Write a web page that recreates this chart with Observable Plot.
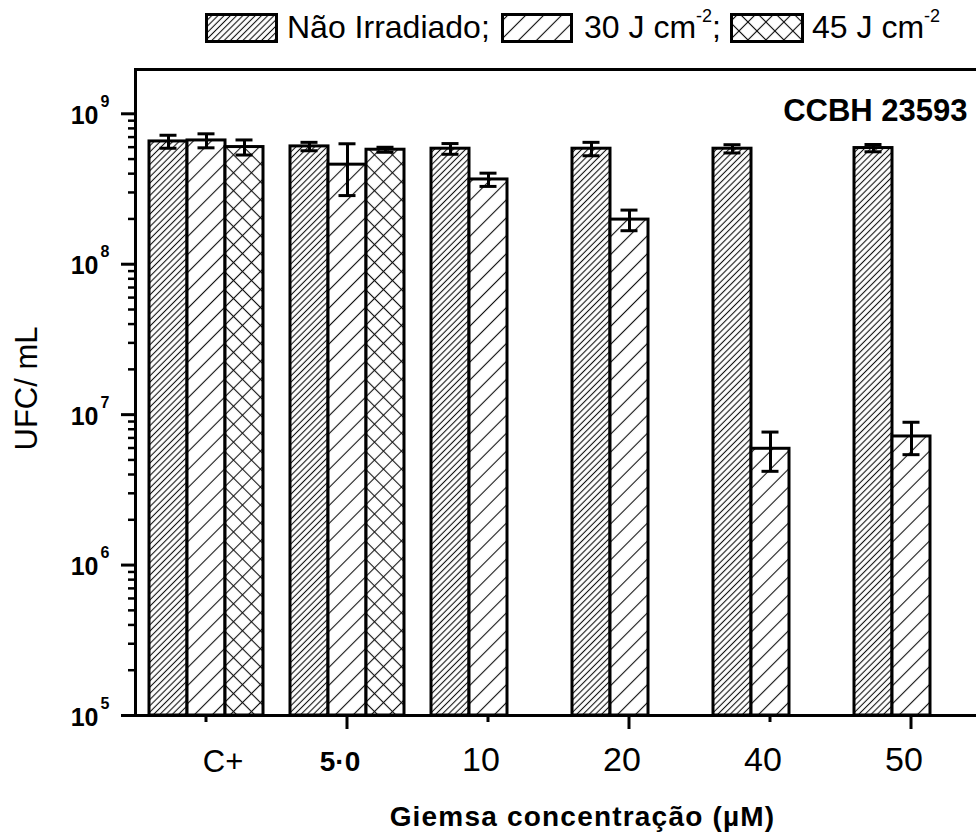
<!DOCTYPE html>
<html><head><meta charset="utf-8">
<script src="https://cdn.jsdelivr.net/npm/d3@7"></script>
<script src="https://cdn.jsdelivr.net/npm/@observablehq/plot@0.6"></script>
<style>
html,body{margin:0;padding:0;background:#fff;overflow:hidden;width:976px;height:834px;}
body{font-family:"Liberation Sans",Arial,sans-serif;color:#000;}
#legend{position:relative;height:56px;font-size:32px;}
.sw{position:absolute;top:13px;}
.lt{position:absolute;top:11px;line-height:32px;white-space:nowrap;}
.sup{font-size:18px;position:relative;top:-16px;}
</style></head>
<body>
<svg width="0" height="0" style="position:absolute">
<defs>
<pattern id="hatchNao" patternUnits="userSpaceOnUse" width="4.4" height="4.4" patternTransform="rotate(45)">
<rect width="4.4" height="4.4" fill="#fff"/>
<line x1="2.2" y1="0" x2="2.2" y2="4.4" stroke="#111" stroke-width="1.1"/>
</pattern>
<pattern id="hatch30" patternUnits="userSpaceOnUse" width="12.7" height="12.7" patternTransform="rotate(45)">
<rect width="12.7" height="12.7" fill="#fff"/>
<line x1="6.35" y1="0" x2="6.35" y2="12.7" stroke="#111" stroke-width="1.1"/>
</pattern>
<pattern id="hatch45" patternUnits="userSpaceOnUse" width="12.7" height="12.7" patternTransform="rotate(45)">
<rect width="12.7" height="12.7" fill="#fff"/>
<line x1="6.35" y1="0" x2="6.35" y2="12.7" stroke="#111" stroke-width="1.1"/>
<line x1="0" y1="6.35" x2="12.7" y2="6.35" stroke="#111" stroke-width="1.1"/>
</pattern>
</defs>
</svg>
<div id="legend">
  <svg class="sw" style="left:205px" width="73" height="30"><rect x="1.5" y="1.5" width="70" height="27" fill="url(#hatchNao)" stroke="#000" stroke-width="3"/></svg>
  <div class="lt" style="left:287px">Não Irradiado;</div>
  <svg class="sw" style="left:501px" width="72" height="30"><rect x="1.5" y="1.5" width="69" height="27" fill="url(#hatch30)" stroke="#000" stroke-width="3"/></svg>
  <div class="lt" style="left:584px">30 J cm<span class="sup">-2</span>;</div>
  <svg class="sw" style="left:730px" width="74" height="30"><rect x="1.5" y="1.5" width="71" height="27" fill="url(#hatch45)" stroke="#000" stroke-width="3"/></svg>
  <div class="lt" style="left:812px">45 J cm<span class="sup">-2</span></div>
</div>
<div id="chart"></div>
<script>
const groups = ["C+", "5·0", "10", "20", "40", "50"];
const series = ["Não Irradiado", "30 J cm-2", "45 J cm-2"];
const naoMean = [6.55e8, 6.07e8, 5.86e8, 5.86e8, 5.86e8, 5.92e8];
const naoSd   = [0.65e8, 0.39e8, 0.48e8, 0.60e8, 0.37e8, 0.33e8];
const j30Mean = [6.65e8, 4.59e8, 3.66e8, 1.98e8, 5.93e6, 7.16e6];
const j30Sd   = [0.71e8, 1.73e8, 0.37e8, 0.31e8, 1.73e6, 1.74e6];
const j45Mean = [6.01e8, 5.77e8, null, null, null, null];
const j45Sd   = [0.69e8, 0.22e8, null, null, null, null];
const majorTicks = [1e5, 1e6, 1e7, 1e8, 1e9];
const minorMult = [2, 3, 4, 5, 6, 7, 8, 9];
const yMin = 1e5, yMax = 1.97e9;
const xTitle = "Giemsa concentração (µM)";
const yTitle = "UFC/ mL";
const strain = "CCBH 23593";

const seriesData = [[naoMean, naoSd], [j30Mean, j30Sd], [j45Mean, j45Sd]];
const rows = [];
groups.forEach((g, i) => seriesData.forEach(([m, s], k) => {
  if (m[i] != null) rows.push({group: g, series: series[k], mean: m[i], sd: s[i]});
}));
const caps = rows.flatMap(d => [{...d, y: d.mean - d.sd}, {...d, y: d.mean + d.sd}]);
const minorTicks = majorTicks.flatMap(t => minorMult.map(m => m * t)).filter(v => v < yMax);
const font = "Liberation Sans, Arial, sans-serif";

const chart = Plot.plot({
  width: 990, height: 778,
  marginTop: 13, marginBottom: 119, marginLeft: 135, marginRight: 9,
  style: {fontFamily: font, background: "#fff", color: "#000", maxWidth: "none", overflow: "visible"},
  fx: {domain: groups, padding: 0, label: null},
  x: {domain: series, paddingInner: 0, paddingOuter: 0.331, axis: null},
  y: {type: "log", domain: [yMin, yMax], label: null},
  color: {domain: series, range: ["url(#hatchNao)", "url(#hatch30)", "url(#hatch45)"]},
  marks: [
    Plot.barY(rows, {fx: "group", x: "series", y1: yMin, y2: "mean", fill: "series", stroke: "#000", strokeWidth: 3}),
    Plot.ruleX(rows, {fx: "group", x: "series", y1: d => d.mean - d.sd, y2: d => d.mean + d.sd, stroke: "#000", strokeWidth: 3}),
    Plot.tickY(caps, {fx: "group", x: "series", y: "y", stroke: "#000", strokeWidth: 3, insetLeft: 10.5, insetRight: 10.5}),
    Plot.ruleY([yMin, yMax], {stroke: "#000", strokeWidth: 3}),
    Plot.frame({anchor: "left", facetAnchor: "left", stroke: "#000", strokeWidth: 3}),
    Plot.frame({anchor: "right", facetAnchor: "right", stroke: "#000", strokeWidth: 3}),
    Plot.axisY({ticks: majorTicks, tickSize: 14, tickFormat: () => "", stroke: "#000", strokeWidth: 3, label: null}),
    Plot.axisY({ticks: minorTicks, tickSize: 7, tickFormat: () => "", stroke: "#000", strokeWidth: 2.5, label: null}),
    Plot.text(majorTicks, {y: d => d, text: () => "10", frameAnchor: "left", facetAnchor: "left", textAnchor: "end", dx: -37, dy: 2, fontSize: 25, fontWeight: "bold"}),
    Plot.text(majorTicks, {y: d => d, text: d => String(Math.round(Math.log10(d))), frameAnchor: "left", facetAnchor: "left", textAnchor: "start", dx: -35, dy: -12, fontSize: 16, fontWeight: "bold"}),
    Plot.axisFx({anchor: "bottom", ticks: ["C+", "10", "40"], tickSize: 7, tickFormat: () => "", stroke: "#000", strokeWidth: 3, label: null}),
    Plot.axisFx({anchor: "bottom", ticks: ["5·0", "20", "50"], tickSize: 14, tickFormat: () => "", stroke: "#000", strokeWidth: 3, label: null}),
    Plot.text(groups.filter(g => g === "C+"), {fx: d => d, text: d => d, frameAnchor: "bottom", lineAnchor: "middle", dx: 17, dy: 47, fontSize: 31}),
    Plot.text(groups.filter(g => g === "5·0"), {fx: d => d, text: d => d, frameAnchor: "bottom", lineAnchor: "middle", dx: -7, dy: 47, fontSize: 28, fontWeight: "bold"}),
    Plot.text(groups.filter(g => g !== "C+" && g !== "5·0"), {fx: d => d, text: d => d, frameAnchor: "bottom", lineAnchor: "middle", dx: -7, dy: 45, fontSize: 34}),
    Plot.text([yTitle], {text: d => d, frameAnchor: "left", facetAnchor: "left", rotate: -90, lineAnchor: "middle", dx: -108, dy: 58, fontSize: 31}),
    Plot.text([xTitle], {text: d => d, frameAnchor: "bottom-left", facetAnchor: "left", textAnchor: "middle", lineAnchor: "middle", dx: 447, dy: 102, fontSize: 28, fontWeight: "bold"}),
    Plot.text([strain], {text: d => d, frameAnchor: "top-right", facetAnchor: "right", textAnchor: "end", lineAnchor: "middle", dx: -14, dy: 42, fontSize: 31, fontWeight: "bold"})
  ]
});
d3.select(chart).selectAll("text").filter(function() { return this.textContent === xTitle; }).attr("letter-spacing", "1.2px");
document.getElementById("chart").appendChild(chart);
</script>
</body></html>
